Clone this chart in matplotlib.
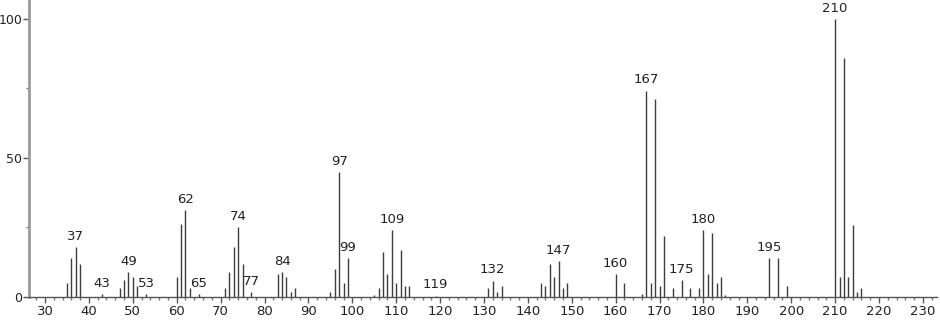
import matplotlib
matplotlib.use('Agg')
import numpy as np
from matplotlib import pyplot as plt

# m/z values and relative intensities
mz = [35, 36, 37, 38, 43, 47, 48, 49, 50, 51, 53,
      60, 61, 62, 63, 65, 71, 72, 73, 74, 75, 77,
      83, 84, 85, 86, 87, 95, 96, 97, 98, 99,
      105, 106, 107, 108, 109, 110, 111, 112, 113, 119,
      131, 132, 133, 134, 143, 144, 145, 146, 147, 148, 149,
      160, 162, 166, 167, 168, 169, 170, 171, 173, 175, 177, 179,
      180, 181, 182, 183, 184, 185, 195, 197, 199,
      210, 211, 212, 213, 214, 215, 216]
intensity = [5.0, 14.1, 18.0, 11.8, 1.0, 3.1, 6.1, 9.0, 7.2, 3.8, 1.0,
             7.2, 26.2, 31.2, 3.1, 1.0, 3.1, 9.0, 18.0, 25.2, 11.8, 1.9,
             8.1, 9.0, 7.2, 1.9, 3.1, 1.9, 10.0, 44.9, 5.0, 14.1,
             0.7, 3.1, 16.1, 8.1, 24.1, 5.0, 17.0, 3.8, 3.8, 0.5,
             3.1, 5.9, 1.9, 3.9, 5.0, 3.9, 11.8, 7.2, 12.9, 3.1, 5.0,
             8.1, 5.0, 1.0, 74.2, 5.0, 71.3, 3.9, 22.0, 3.1, 6.1, 3.1, 3.1,
             24.1, 8.1, 22.9, 5.0, 7.2, 0.7, 14.1, 14.1, 3.9,
             100.0, 7.2, 86.1, 7.2, 26.0, 1.9, 3.1]
labeled = [37, 43, 49, 53, 62, 65, 74, 77, 84, 97, 99, 109, 119,
           132, 147, 160, 167, 175, 180, 195, 210]

x_ticks = list(range(30, 231, 10))
y_ticks = [0, 50, 100]

fig = plt.figure(figsize=(9.4, 3.2), dpi=100)
ax = fig.add_axes([29/940, 23/320, 908/940, 297/320])

ax.vlines(mz, 0, intensity, color='#3c3c3c', linewidth=1.0)

lookup = dict(zip(mz, intensity))
for m in labeled:
    ax.text(m, lookup[m] + 1.5, str(m), ha='center', va='bottom',
            fontsize=9.5, color='#222222')

ax.set_xlim(26.35, 233.2)
ax.set_ylim(0, 106.8)
ax.set_xticks(x_ticks)
ax.set_xticks(range(28, 233, 2), minor=True)
ax.set_yticks(y_ticks)
ax.set_yticks([25, 75], minor=True)

for side in ('top', 'right'):
    ax.spines[side].set_visible(False)
ax.spines['left'].set_color('#9a9a9a')
ax.spines['left'].set_linewidth(2)
ax.spines['bottom'].set_color('#555555')
ax.spines['bottom'].set_linewidth(1)

ax.tick_params(axis='both', which='major', length=4, width=1,
               color='#555555', labelsize=9.5, labelcolor='#222222', pad=2)
ax.tick_params(axis='y', which='major', labelsize=9, pad=1)
ax.tick_params(axis='both', which='minor', length=2.5, width=1, color='#777777')

plt.savefig('out.png', dpi=100)
